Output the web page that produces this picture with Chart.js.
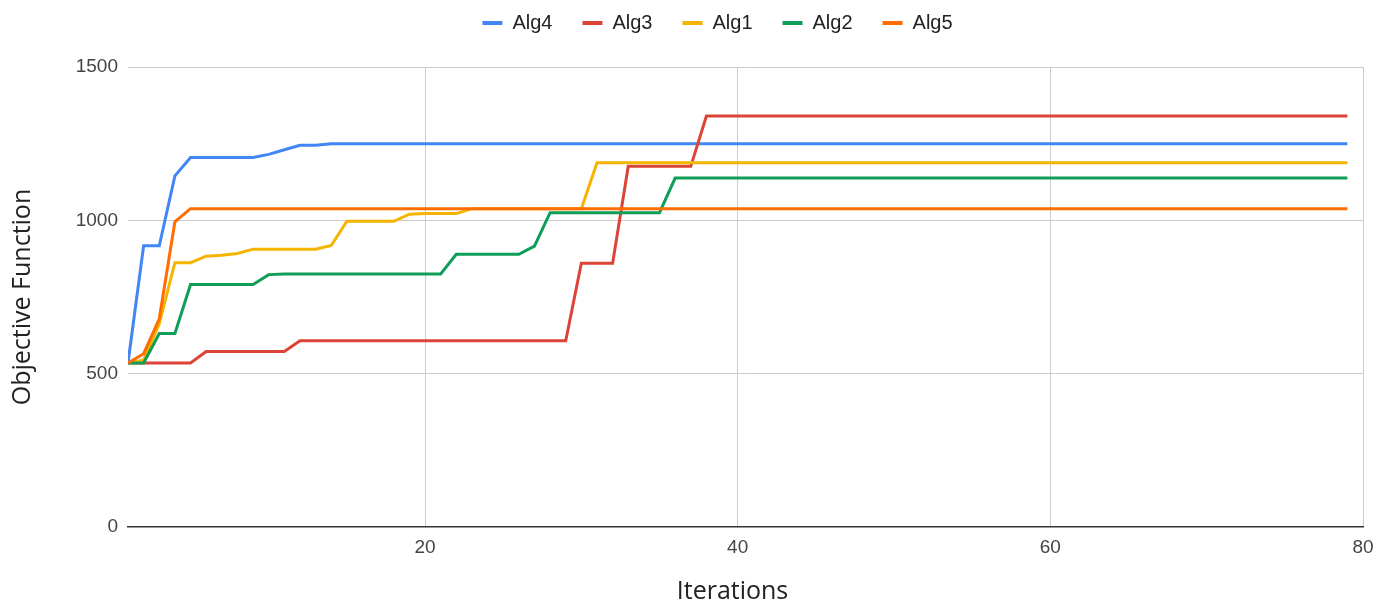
<!DOCTYPE html>
<html lang="en">
<head>
    <meta charset="UTF-8">
    <title>Objective Function vs Iterations</title>
    <script src="https://cdn.jsdelivr.net/npm/chart.js"></script>
    <style>
        body { margin: 0; background: #fff; }
        #wrap { width: 1392px; height: 609px; position: relative; }
    </style>
</head>
<body>
    <div id="wrap"><canvas id="chart"></canvas></div>

    <script>
        // iteration numbers (x axis)
        const iterations = [
            1, 2, 3, 4, 5, 6, 7, 8, 9, 10,
            11, 12, 13, 14, 15, 16, 17, 18, 19, 20,
            21, 22, 23, 24, 25, 26, 27, 28, 29, 30,
            31, 32, 33, 34, 35, 36, 37, 38, 39, 40,
            41, 42, 43, 44, 45, 46, 47, 48, 49, 50,
            51, 52, 53, 54, 55, 56, 57, 58, 59, 60,
            61, 62, 63, 64, 65, 66, 67, 68, 69, 70,
            71, 72, 73, 74, 75, 76, 77, 78, 79
        ];

        const seriesNames = ['Alg4', 'Alg3', 'Alg1', 'Alg2', 'Alg5'];

        // values
        const alg4 = [
            535, 917, 917, 1145, 1205, 1205, 1205, 1205, 1205, 1215,
            1230, 1245, 1245, 1250, 1250, 1250, 1250, 1250, 1250, 1250,
            1250, 1250, 1250, 1250, 1250, 1250, 1250, 1250, 1250, 1250,
            1250, 1250, 1250, 1250, 1250, 1250, 1250, 1250, 1250, 1250,
            1250, 1250, 1250, 1250, 1250, 1250, 1250, 1250, 1250, 1250,
            1250, 1250, 1250, 1250, 1250, 1250, 1250, 1250, 1250, 1250,
            1250, 1250, 1250, 1250, 1250, 1250, 1250, 1250, 1250, 1250,
            1250, 1250, 1250, 1250, 1250, 1250, 1250, 1250, 1250
        ];
        const alg3 = [
            535, 535, 535, 535, 535, 572, 572, 572, 572, 572,
            572, 607, 607, 607, 607, 607, 607, 607, 607, 607,
            607, 607, 607, 607, 607, 607, 607, 607, 607, 860,
            860, 860, 1176, 1176, 1176, 1176, 1176, 1340, 1340, 1340,
            1340, 1340, 1340, 1340, 1340, 1340, 1340, 1340, 1340, 1340,
            1340, 1340, 1340, 1340, 1340, 1340, 1340, 1340, 1340, 1340,
            1340, 1340, 1340, 1340, 1340, 1340, 1340, 1340, 1340, 1340,
            1340, 1340, 1340, 1340, 1340, 1340, 1340, 1340, 1340
        ];
        const alg1 = [
            535, 545, 663, 862, 862, 883, 886, 892, 906, 906,
            906, 906, 906, 918, 997, 997, 997, 997, 1020, 1022,
            1022, 1022, 1038, 1038, 1038, 1038, 1038, 1038, 1038, 1038,
            1188, 1188, 1188, 1188, 1188, 1188, 1188, 1188, 1188, 1188,
            1188, 1188, 1188, 1188, 1188, 1188, 1188, 1188, 1188, 1188,
            1188, 1188, 1188, 1188, 1188, 1188, 1188, 1188, 1188, 1188,
            1188, 1188, 1188, 1188, 1188, 1188, 1188, 1188, 1188, 1188,
            1188, 1188, 1188, 1188, 1188, 1188, 1188, 1188, 1188
        ];
        const alg2 = [
            535, 535, 631, 631, 791, 791, 791, 791, 791, 823,
            825, 825, 825, 825, 825, 825, 825, 825, 825, 825,
            825, 889, 889, 889, 889, 889, 916, 1025, 1025, 1025,
            1025, 1025, 1025, 1025, 1025, 1138, 1138, 1138, 1138, 1138,
            1138, 1138, 1138, 1138, 1138, 1138, 1138, 1138, 1138, 1138,
            1138, 1138, 1138, 1138, 1138, 1138, 1138, 1138, 1138, 1138,
            1138, 1138, 1138, 1138, 1138, 1138, 1138, 1138, 1138, 1138,
            1138, 1138, 1138, 1138, 1138, 1138, 1138, 1138, 1138
        ];
        const alg5 = [
            535, 565, 679, 995, 1038, 1038, 1038, 1038, 1038, 1038,
            1038, 1038, 1038, 1038, 1038, 1038, 1038, 1038, 1038, 1038,
            1038, 1038, 1038, 1038, 1038, 1038, 1038, 1038, 1038, 1038,
            1038, 1038, 1038, 1038, 1038, 1038, 1038, 1038, 1038, 1038,
            1038, 1038, 1038, 1038, 1038, 1038, 1038, 1038, 1038, 1038,
            1038, 1038, 1038, 1038, 1038, 1038, 1038, 1038, 1038, 1038,
            1038, 1038, 1038, 1038, 1038, 1038, 1038, 1038, 1038, 1038,
            1038, 1038, 1038, 1038, 1038, 1038, 1038, 1038, 1038
        ];

        const xTicks = [20, 40, 60, 80];
        const yTicks = [0, 500, 1000, 1500];

        const seriesValues = [alg4, alg3, alg1, alg2, alg5];
        const colors = ['#4285F4', '#DB4437', '#F4B400', '#0F9D58', '#FF6D01'];

        const datasets = seriesNames.map((name, i) => ({
            label: name,
            data: seriesValues[i].map((v, j) => ({ x: iterations[j], y: v })),
            borderColor: colors[i],
            backgroundColor: colors[i],
            borderWidth: 3,
            pointRadius: 0,
            tension: 0,
            // later series painted on top, like the original
            order: seriesNames.length - i
        }));

        // fixed legend band height, legend row nudged up and right
        const legendBand = {
            id: 'legendBand',
            beforeInit(chart) {
                const fit = chart.legend.fit;
                chart.legend.fit = function () {
                    fit.bind(chart.legend)();
                    this.height = 67;
                };
            },
            afterLayout(chart) {
                chart.legend.top -= 17;
                chart.legend.bottom -= 17;
                chart.legend.left += 36;
                chart.legend.right += 36;
            }
        };

        const ctx = document.getElementById('chart').getContext('2d');
        new Chart(ctx, {
            type: 'line',
            data: { datasets: datasets },
            plugins: [legendBand],
            options: {
                responsive: true,
                maintainAspectRatio: false,
                animation: false,
                layout: { padding: { left: 0, right: 29, top: 0, bottom: 0 } },
                plugins: {
                    tooltip: { enabled: false },
                    legend: {
                        position: 'top',
                        labels: {
                            boxWidth: 20,
                            boxHeight: 4,
                            padding: 30,
                            color: '#222',
                            font: { family: 'Liberation Sans', size: 20 },
                            sort: (a, b) => a.datasetIndex - b.datasetIndex,
                            generateLabels(chart) {
                                const items = Chart.defaults.plugins.legend.labels.generateLabels(chart);
                                items.forEach(it => { it.lineWidth = 0; it.fillStyle = it.strokeStyle; });
                                return items;
                            }
                        }
                    }
                },
                scales: {
                    x: {
                        type: 'linear',
                        min: 1,
                        max: 80,
                        afterBuildTicks: scale => { scale.ticks = xTicks.map(v => ({ value: v })); },
                        afterFit: scale => { scale.height = 82; },
                        grid: { color: '#cccccc', lineWidth: 1, drawTicks: false },
                        border: { display: true, color: '#333333', width: 1.5 },
                        ticks: {
                            padding: 9,
                            color: '#444',
                            font: { family: 'Liberation Sans', size: 19 },
                            maxRotation: 0
                        },
                        title: {
                            display: true,
                            text: 'Iterations    ',
                            color: '#222',
                            font: { family: 'Open Sans', size: 25 },
                            padding: { top: 3, bottom: 2 }
                        }
                    },
                    y: {
                        min: 0,
                        max: 1500,
                        afterBuildTicks: scale => { scale.ticks = yTicks.map(v => ({ value: v })); },
                        afterFit: scale => { scale.width = 128; },
                        grid: {
                            color: c => c.tick && c.tick.value === 0 ? 'rgba(0,0,0,0)' : '#cccccc',
                            lineWidth: 1,
                            drawTicks: false
                        },
                        border: { display: false },
                        ticks: {
                            padding: 10,
                            color: '#444',
                            font: { family: 'Liberation Sans', size: 19 },
                            callback: v => String(v)
                        },
                        title: {
                            display: true,
                            text: 'Objective Function',
                            color: '#222',
                            font: { family: 'Open Sans', size: 25 },
                            padding: { top: 8, bottom: 8 }
                        }
                    }
                }
            }
        });
    </script>
</body>
</html>
